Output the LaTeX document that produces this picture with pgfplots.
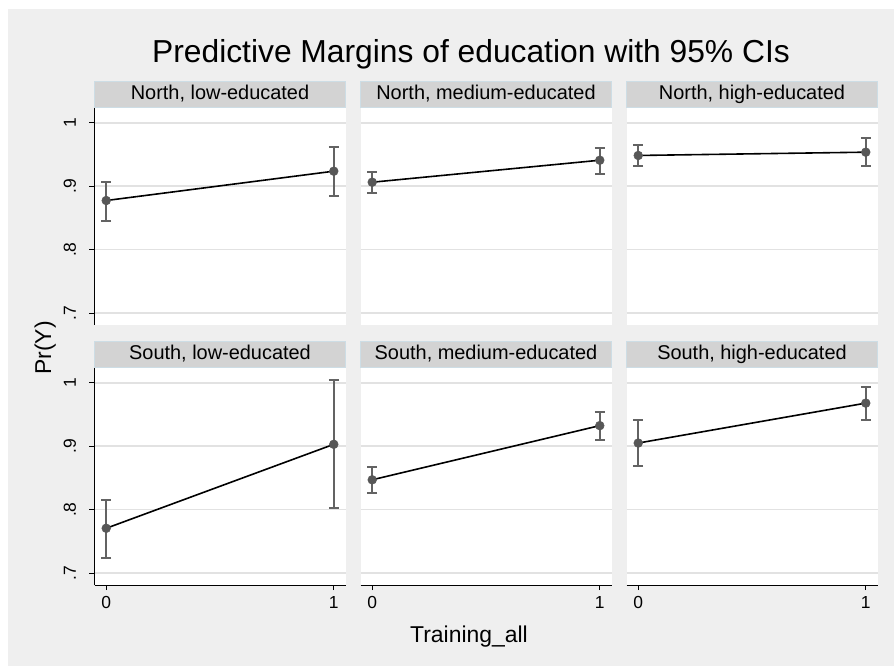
\documentclass[border=0pt]{standalone}
\usepackage{fontspec}
\setmainfont{Liberation Sans}
\usepackage{pgfplots}
\usepackage{pgfplotstable}
\pgfplotsset{compat=1.18}
\definecolor{bg}{HTML}{EFEFEF}
\definecolor{hdr}{HTML}{D3D3D3}
\definecolor{hdrb}{HTML}{CDDDE5}
\definecolor{gridc}{HTML}{E2E2E2}
\definecolor{markc}{HTML}{575757}
\definecolor{barc}{HTML}{636363}

% x y ep em  (estimate, upper-minus-estimate, estimate-minus-lower)
\pgfplotstableread{
x y ep em
0 0.8774 0.0300 0.0327
1 0.9237 0.0385 0.0389
}\NL
\pgfplotstableread{
x y ep em
0 0.9063 0.0157 0.0178
1 0.9410 0.0190 0.0210
}\NM
\pgfplotstableread{
x y ep em
0 0.9485 0.0169 0.0169
1 0.9537 0.0221 0.0221
}\NH
\pgfplotstableread{
x y ep em
0 0.7705 0.0453 0.0468
1 0.9030 0.1017 0.1010
}\SL
\pgfplotstableread{
x y ep em
0 0.8470 0.0200 0.0210
1 0.9325 0.0222 0.0221
}\SM
\pgfplotstableread{
x y ep em
0 0.9050 0.0370 0.0360
1 0.9680 0.0250 0.0265
}\SH

\pgfplotsset{
  panel/.style={
    width=251bp, height=218bp, scale only axis, anchor=north west,
    xmin=-0.0515, xmax=1.0515, ymin=0.681, ymax=1.025,
    xtick={0,1}, xticklabels={0,1},
    ytick={0.7,0.8,0.9,1}, yticklabels={.7,.8,.9,1},
    ymajorgrids, major grid style={color=gridc, line width=1.8bp},
    axis background/.style={fill=white},
    axis x line*=bottom, axis y line*=left,
    tick align=outside, major tick length=5bp,
    every tick/.style={black, line width=0.9bp},
    axis line style={black, line width=1bp},
    clip=false,
    yticklabel style={rotate=90, anchor=south, font=\fontsize{17.5}{17.5}\selectfont},
    yticklabel shift=10bp,
    xticklabel style={font=\fontsize{17.5}{17.5}\selectfont},
    xticklabel shift=3bp,
  },
  notop/.style={x axis line style={draw=none}, xtick style={draw=none}, xticklabels={}},
  noleft/.style={y axis line style={draw=none}, ytick style={draw=none}, yticklabels={}},
}

\newcommand{\panel}[3]{%
  \begin{axis}[panel, at={(#1)}, #3]
    \addplot[barc, mark=none, forget plot, line width=0pt, draw opacity=0,
      error bars/.cd, y dir=both, y explicit,
      error bar style={draw=barc, draw opacity=1, line width=2bp},
      error mark options={draw=barc, draw opacity=1, line width=2bp, mark size=5bp, rotate=90}]
      table[x=x, y=y, y error plus=ep, y error minus=em] {#2};
    \addplot[black, line width=1.6bp, mark=*, mark size=4.4bp,
      mark options={fill=markc, draw=markc, line width=0.5bp}]
      table[x=x, y=y] {#2};
  \end{axis}%
}

\newcommand{\header}[3]{%
  \fill[hdr] (#1bp,#2bp) rectangle ++(251bp,25.5bp);
  \draw[hdrb, line width=0.8bp] (#1bp,#2bp) rectangle ++(251bp,25.5bp);
  \node[font=\fontsize{20}{20}\selectfont, inner sep=0pt, anchor=base]
    at ([xshift=125.5bp, yshift=7.7bp]#1bp,#2bp) {#3};
}

\begin{document}
\begin{tikzpicture}
\fill[white] (0,0) rectangle (894bp,666bp);
\fill[bg] (8bp,0) rectangle (894bp,656.5bp);

\panel{94.5bp,559bp}{\NL}{notop}
\panel{360.5bp,559bp}{\NM}{notop,noleft}
\panel{626.5bp,559bp}{\NH}{notop,noleft}
\panel{94.5bp,299bp}{\SL}{}
\panel{360.5bp,299bp}{\SM}{noleft}
\panel{626.5bp,299bp}{\SH}{noleft}

\header{94.5}{559}{North, low-educated}
\header{360.5}{559}{North, medium-educated}
\header{626.5}{559}{North, high-educated}
\header{94.5}{299}{South, low-educated}
\header{360.5}{299}{South, medium-educated}
\header{626.5}{299}{South, high-educated}

\node[font=\fontsize{31.9}{31.9}\selectfont, anchor=base, inner sep=0pt]
  at (471bp,603.3bp) {Predictive Margins of education with 95\% CIs};
\node[font=\fontsize{23}{23}\selectfont, anchor=base, inner sep=0pt]
  at (469bp,23.3bp) {Training\_all};
\node[font=\fontsize{23}{23}\selectfont, anchor=base, inner sep=0pt, rotate=90]
  at (51bp,318bp) {Pr(Y)};
\end{tikzpicture}
\end{document}
